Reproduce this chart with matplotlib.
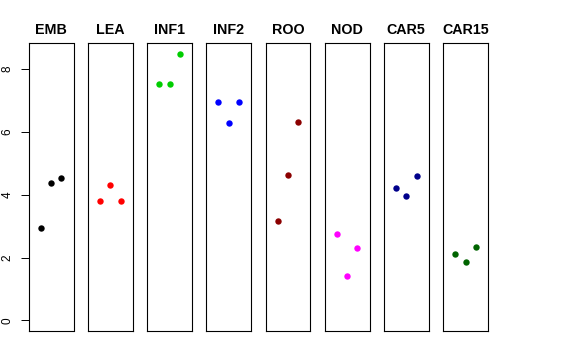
import matplotlib
matplotlib.use("Agg")
import matplotlib.pyplot as plt

# tissue groups, one panel each
groups = ["EMB", "LEA", "INF1", "INF2", "ROO", "NOD", "CAR5", "CAR15"]
colors = ["black", "red", "#00CD00", "blue", "#8B0000", "magenta", "#00008B", "#006400"]

# three replicates per group
reps = [1, 2, 3]
EMB = [2.95, 4.38, 4.54]
LEA = [3.80, 4.31, 3.80]
INF1 = [7.52, 7.54, 8.48]
INF2 = [6.95, 6.27, 6.95]
ROO = [3.16, 4.64, 6.31]
NOD = [2.76, 1.40, 2.30]
CAR5 = [4.20, 3.95, 4.58]
CAR15 = [2.11, 1.85, 2.35]
values = [EMB, LEA, INF1, INF2, ROO, NOD, CAR5, CAR15]

yticks = [0, 2, 4, 6, 8]

plt.rcParams['font.family'] = ['Liberation Sans', 'DejaVu Sans']

W, H = 576, 360
fig = plt.figure(figsize=(W / 100, H / 100), dpi=100)

left0 = 28.7
step = 59.2
pw = 44.8
bottom = 29.0
ph = 288.3

for i, (g, c, v) in enumerate(zip(groups, colors, values)):
    ax = fig.add_axes([(left0 + i * step) / W, bottom / H, pw / W, ph / H])
    ax.plot(reps, v, 'o', color=c, markersize=4.6, markeredgewidth=0)
    ax.set_xlim(-0.16, 4.16)
    ax.set_ylim(-0.34, 8.84)
    ax.set_xticks([])
    ax.set_title(g, fontsize=10.3, fontweight='bold', pad=6)
    for s in ax.spines.values():
        s.set_linewidth(0.8)
    if i == 0:
        ax.set_yticks(yticks)
        ax.tick_params(axis='y', length=5.8, width=0.7, pad=5, labelsize=8.5)
        for lab in ax.get_yticklabels():
            lab.set_rotation(90)
            lab.set_va('center')
    else:
        ax.set_yticks([])

fig.savefig("out.png", dpi=100)
